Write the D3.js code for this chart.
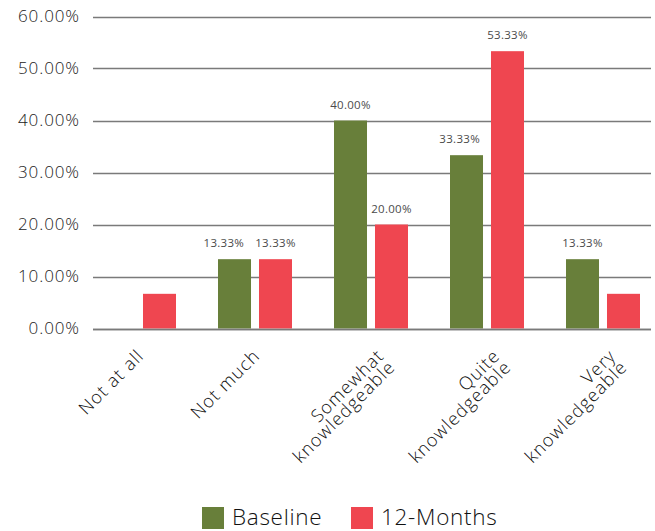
<!DOCTYPE html>
<html><head><meta charset="utf-8">
<script src="https://cdn.jsdelivr.net/npm/d3@7"></script>
<style>body{margin:0;background:#fff}svg{display:block}text{font-family:"Open Sans",sans-serif;font-weight:300}</style>
</head><body><svg id="c" width="655" height="531"></svg>
<script>
const categories = [["Not at all"],["Not much"],["Somewhat","knowledgeable"],["Quite","knowledgeable"],["Very","knowledgeable"]];
const seriesNames = ["Baseline","12-Months"];
const baseline = [0, 13.33, 40, 33.33, 13.33];
const months12 = [6.67, 13.33, 20, 53.33, 6.67];
const baselineLabels = ["", "13.33%", "40.00%", "33.33%", "13.33%"];
const months12Labels = ["", "13.33%", "20.00%", "53.33%", ""];
const yTicks = [0,10,20,30,40,50,60];
const colors = ["#687f3a","#ef4650"];

const svg = d3.select("#c");
const y = d3.scaleLinear().domain([0,60]).range([328.5,16.5]);
const x0 = d3.scaleBand().domain(d3.range(categories.length)).range([81,661]);
const x1 = d3.scaleBand().domain(seriesNames).range([21,95]).paddingInner(0.195);

// grid
svg.append("g").selectAll("line").data(yTicks).join("line")
  .attr("x1",93).attr("x2",651).attr("y1",d=>Math.round(y(d))+0.5).attr("y2",d=>Math.round(y(d))+0.5)
  .attr("stroke","#7a7a7a").attr("stroke-width",1.5);
svg.append("g").selectAll("text").data(yTicks).join("text")
  .attr("x",80).attr("y",d=>y(d)).attr("dy","0.35em").attr("text-anchor","end")
  .attr("font-size",17).attr("letter-spacing",0.9).attr("fill","#222").text(d=>d3.format(".2f")(d)+"%");

const seriesData = [baseline, months12];
const seriesLabels = [baselineLabels, months12Labels];
const labelSel = [];
seriesNames.forEach((s,si)=>{
  const g = svg.append("g");
  g.selectAll("rect").data(seriesData[si]).join("rect")
    .attr("x",(d,i)=>x0(i)+x1(s)).attr("width",x1.bandwidth())
    .attr("y",d=>y(d)).attr("height",d=>y(0)-y(d)).attr("fill",colors[si]);
  labelSel[si] = g.selectAll("text").data(seriesData[si]).join("text")
    .attr("x",(d,i)=>x0(i)+x1(s)+x1.bandwidth()/2).attr("y",d=>y(d)-12)
    .attr("text-anchor","middle").attr("font-size",11.5).attr("letter-spacing",0.3)
    .style("font-weight",400).attr("fill","#4a4a4a")
    .text((d,i)=>seriesLabels[si][i]);
});
// nudge baseline labels left when they crowd the neighbouring 12-Months bar or label
const gap = 11;
labelSel[0].each(function(d,i){
  if(!baselineLabels[i]) return;
  const b = this.getBBox();
  let obstacle = Infinity;
  const redLeft = x0(i)+x1(seriesNames[1]);
  if (y(months12[i]) < b.y + b.height) obstacle = Math.min(obstacle, redLeft);
  const rl = labelSel[1].nodes()[i];
  if (months12Labels[i]) {
    const rb = rl.getBBox();
    if (rb.y < b.y + b.height && rb.y + rb.height > b.y) obstacle = Math.min(obstacle, rb.x);
  }
  const need = b.x + b.width + gap - obstacle;
  if (need > 0) d3.select(this).attr("x", +d3.select(this).attr("x") - need);
});
svg.append("line").attr("x1",93).attr("x2",651).attr("y1",Math.round(y(0))+0.5).attr("y2",Math.round(y(0))+0.5)
  .attr("stroke","#7a7a7a").attr("stroke-width",1.5);

// x labels
const xl = svg.append("g");
const lh = 16;
categories.forEach((lines,i)=>{
  const cx = x0(i)+x0.bandwidth()/2;
  const off = lines.length > 1 ? 14 : 6;
  const t = xl.append("text").attr("transform",`translate(${cx+off},${357}) rotate(-45)`)
    .attr("text-anchor","end").attr("font-size",18).attr("letter-spacing",1.1).attr("fill","#111");
  lines.forEach((ln,k)=>{
    t.append("tspan").attr("x",0).attr("y",k*lh).text(ln);
  });
});

// legend
const lg = svg.append("g");
const legX = [202, 351];
seriesNames.forEach((s,si)=>{
  lg.append("rect").attr("x",legX[si]).attr("y",507).attr("width",22).attr("height",22).attr("fill",colors[si]);
  lg.append("text").attr("x",legX[si]+30).attr("y",525).attr("font-size",22.5).attr("letter-spacing",0.7).attr("fill","#111").text(s);
});
</script></body></html>
